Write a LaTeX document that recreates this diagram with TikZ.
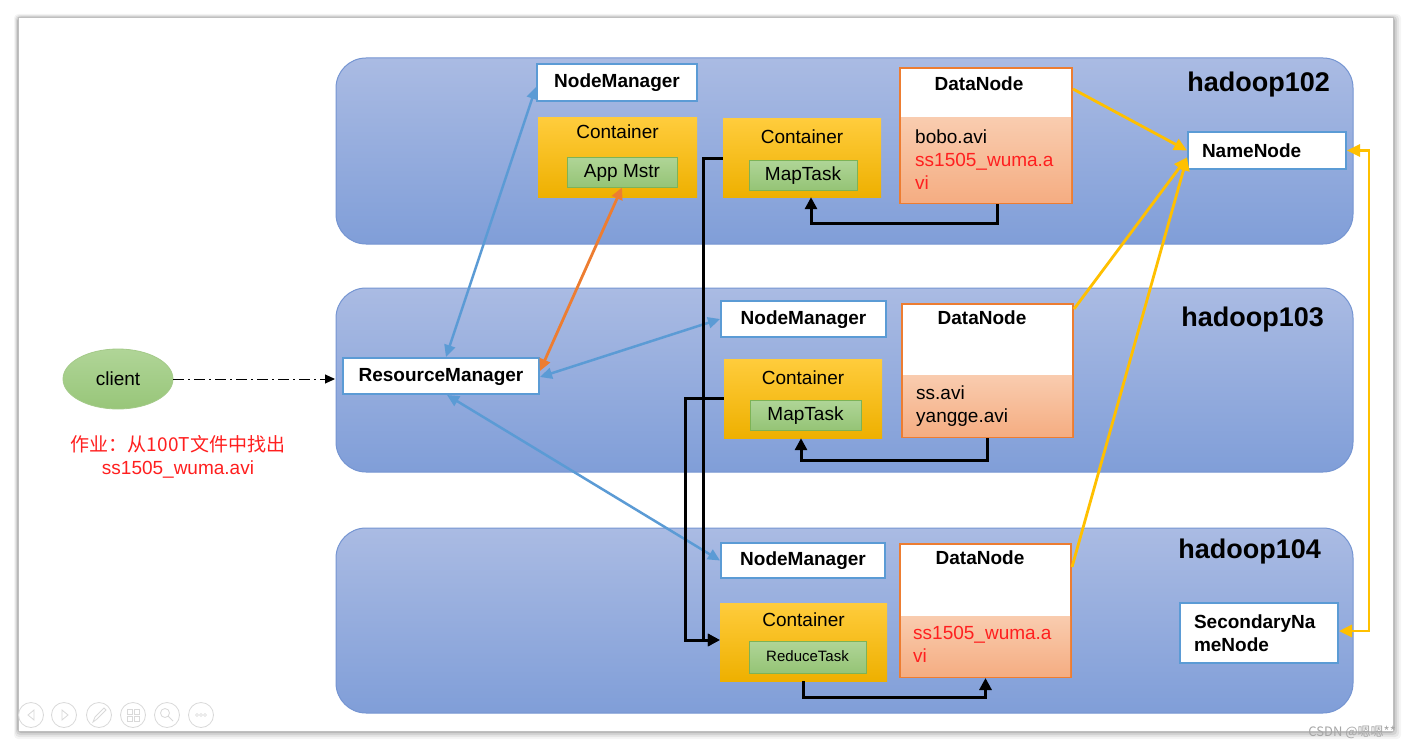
\documentclass[tikz,border=0pt]{standalone}
\usepackage{fontspec}
\setmainfont{Liberation Sans}
\newfontfamily\cjk{Noto Sans CJK SC}
\usetikzlibrary{arrows.meta,shapes.geometric}

\definecolor{bandtop}{HTML}{AABBE3}
\definecolor{bandbot}{HTML}{809ED8}
\definecolor{bandline}{HTML}{7595D2}
\definecolor{nmblue}{HTML}{5B9BD5}
\definecolor{gold}{HTML}{FFC000}
\definecolor{goldtop}{HTML}{FFCC3C}
\definecolor{goldbot}{HTML}{EEB000}
\definecolor{greentop}{HTML}{B0D597}
\definecolor{greenbot}{HTML}{95C476}
\definecolor{greenline}{HTML}{7DB356}
\definecolor{dnorange}{HTML}{ED7D31}
\definecolor{filetop}{HTML}{F9CCAF}
\definecolor{filebot}{HTML}{F5AD82}
\definecolor{hwred}{HTML}{FF1F1F}
\definecolor{uigray}{HTML}{D9D9D9}

\begin{document}
\begin{tikzpicture}[x=1pt,y=-1pt]
\tikzstyle{every node}+=[inner sep=0pt]
\tikzstyle{band}=[draw=bandline,line width=1pt,top color=bandtop,bottom color=bandbot,rounded corners=30pt,minimum width=1017pt]
\tikzstyle{host}=[font=\fontsize{27}{32}\selectfont\bfseries]
\tikzstyle{tb}=[font=\fontsize{19}{23}\selectfont\bfseries]
\tikzstyle{tr}=[font=\fontsize{19}{23}\selectfont]
\tikzstyle{nmbox}=[tb,draw=nmblue,line width=2pt,fill=white,text height=13.5pt,text depth=3.5pt]
\tikzstyle{cbox}=[top color=goldtop,bottom color=goldbot]
\tikzstyle{task}=[tr,draw=greenline,line width=0.8pt,top color=greentop,bottom color=greenbot,text height=13.5pt,text depth=3.5pt]
\tikzstyle{dnframe}=[draw=dnorange,line width=2pt,fill=white]
\tikzstyle{dnfile}=[top color=filetop,bottom color=filebot]
\tikzstyle{blue link}=[draw=nmblue,line width=2.5pt,>={Triangle[length=12pt,width=11pt]},<->]
\tikzstyle{orange link}=[draw=dnorange,line width=2.8pt,>={Triangle[length=12pt,width=11pt]},<->]
\tikzstyle{gold link}=[draw=gold,line width=2.8pt,>={Triangle[length=13pt,width=12pt]},->]
\tikzstyle{black link}=[draw=black,line width=3pt,>={Triangle[length=12pt,width=12pt]},->]

\fill[white] (0,0) rectangle (1412,749);
\foreach \d/\o in {8/0.04,6/0.06,4/0.08,2/0.12}
  \fill[black,opacity=\o,rounded corners=4pt] (18-\d/2,18-\d/2) rectangle (1393+\d,731+\d);
\fill[white] (18,18) rectangle (1393,731);
\draw[color=black!25,line width=1pt] (18,18) rectangle (1393,731);

\node[band,minimum height=186] (b102) at (844.5,151) {};
\node[band,minimum height=184] (b103) at (844.5,380) {};
\node[band,minimum height=185] (b104) at (844.5,620.5) {};
\node[host,anchor=east] (h102) at (1330,85) {hadoop102};
\node[host,anchor=east] (h103) at (1324,320) {hadoop103};
\node[host,anchor=east] (h104) at (1321,552) {hadoop104};

\node[nmbox,minimum width=160,minimum height=37] (nm1) at (617,82.5) {NodeManager};
\node[cbox,minimum width=159,minimum height=79] (c1) at (617.5,157.5) {};
\node[tr] (c1t) at (617.5,132) {Container};
\node[task,minimum width=110,minimum height=30] (am) at (622,172) {App Mstr};
\node[cbox,minimum width=158,minimum height=78] (c2) at (802,158) {};
\node[tr] (c2t) at (802,137) {Container};
\node[task,minimum width=108,minimum height=30] (mt1) at (803,175) {MapTask};
\node[dnframe,minimum width=172,minimum height=135] (dn1) at (986,135.5) {};
\node[dnfile,minimum width=170,minimum height=84] (dn1f) at (986,160) {};
\node[tb] (dn1t) at (979,84) {DataNode};
\node[tr,align=left,anchor=north west] (f1) at (915,129.5) {bobo.avi\\\textcolor{hwred}{ss1505\_wuma.a}\\\textcolor{hwred}{vi}};
\node[tb,draw=nmblue,line width=2pt,fill=white,minimum height=37,text width=130pt,inner xsep=14pt,align=left] (nn) at (1267,150.5) {NameNode};

\node[nmbox,minimum width=196,minimum height=36] (rm) at (441,376) {ResourceManager};
\node[nmbox,minimum width=165,minimum height=36] (nm2) at (803.5,319) {NodeManager};
\node[cbox,minimum width=158,minimum height=79] (c3) at (803,398.5) {};
\node[tr] (c3t) at (803,378) {Container};
\node[task,minimum width=111,minimum height=30] (mt2) at (805.5,415) {MapTask};
\node[dnframe,minimum width=171,minimum height=133] (dn2) at (987.5,370.5) {};
\node[dnfile,minimum width=169,minimum height=61] (dn2f) at (987.5,405.5) {};
\node[tb] (dn2t) at (982,318) {DataNode};
\node[tr,align=left,anchor=north west] (f2) at (916,385.5) {ss.avi\\yangge.avi};

\node[nmbox,minimum width=164,minimum height=35] (nm3) at (803,560.5) {NodeManager};
\node[cbox,minimum width=167,minimum height=78] (c4) at (803.5,642) {};
\node[tr] (c4t) at (803.5,620) {Container};
\node[task,font=\fontsize{15}{18}\selectfont,text height=11pt,text depth=3pt,minimum width=117,minimum height=32] (rt) at (807.5,657) {ReduceTask};
\node[dnframe,minimum width=171,minimum height=133] (dn3) at (985.5,610.5) {};
\node[dnfile,minimum width=169,minimum height=60] (dn3f) at (985.5,646) {};
\node[tb] (dn3t) at (980,558) {DataNode};
\node[tr,align=left,anchor=north west,text=hwred] (f3) at (913,626.5) {ss1505\_wuma.a\\vi};
\node[tb,draw=nmblue,line width=2pt,fill=white,minimum height=60,text width=130pt,inner xsep=14pt,align=left] (snn) at (1259,633) {SecondaryNa\\meNode};

\node[tr,ellipse,draw=greenline!70,line width=0.8pt,top color=greentop,bottom color=greenbot!90!greentop,minimum width=110,minimum height=60] (client) at (118,379) {client};
\node[font=\cjk\fontsize{19}{23}\selectfont,text=hwred,align=center] (hw) at (178,457) {作业：从100T文件中找出\\{\fontspec{Liberation Sans}ss1505\_wuma.avi}};

\draw[line width=1pt,dash pattern=on 11pt off 4pt on 2pt off 4pt,-{Triangle[length=10pt,width=9pt]}] (client) -- ([xshift=-7pt,yshift=-3pt]rm.west);
\draw[blue link] ([xshift=5pt]rm.north) -- ([yshift=-4.5pt]nm1.west);
\draw[orange link] ([yshift=5pt]rm.east) -- (am.south);
\draw[blue link] ([yshift=-1pt]rm.east) -- (nm2.west);
\draw[blue link] ([xshift=6pt]rm.south) -- (nm3.west);

\draw[black link] ([xshift=11pt]dn1.south) -- ++(0,19) -| ([xshift=9pt]c2.south);
\draw[black link] (dn2.south) -- ++(0,22) -| ([xshift=-2pt]c3.south);
\draw[black link] (c4.south) -- ++(0,16) -| (dn3.south);
\draw[black link] (c2.west) -- ++(-19,0) |- ([yshift=2pt]c4.west);
\draw[black link] (c3.west) -- ++(-38,0) |- ([yshift=2pt]c4.west);

\draw[gold link] ([yshift=-22pt]dn1.north east) -- (nn.west);
\draw[gold link] ([yshift=-6pt]dn2.north east) -- ([yshift=-7pt]nn.west);
\draw[gold link] ([yshift=-24pt]dn3.north east) -- ([yshift=-7pt]nn.west);
\draw[gold link,<->] (nn.east) -- ++(22,0) |- ([yshift=2pt]snn.east);

\foreach \cx in {31,64,99,133,167,201}
  \draw[uigray,line width=0.8pt] (\cx,715) circle (12.5);
\draw[uigray,line width=0.8pt] (34,710) -- (28,715) -- (34,720) -- cycle;
\draw[uigray,line width=0.8pt] (62,710) -- (68,715) -- (62,720) -- cycle;
\draw[uigray,line width=0.8pt] (93,722) -- (95,717) -- (104,708) -- (106,710) -- (97,719) -- cycle;
\draw[uigray,line width=0.8pt] (127,709) rectangle (132,714) (134,709) rectangle (139,714) (127,716) rectangle (132,721) (134,716) rectangle (139,721);
\draw[uigray,line width=0.8pt] (165,713) circle (4.5) (168,716) -- (173,721);
\foreach \dx in {-4,0,4}
  \draw[uigray,line width=0.6pt] (201+\dx,715) circle (1.5);
\node[font=\cjk\fontsize{13}{15}\selectfont,text=black!35,anchor=east] (wm) at (1396,732) {CSDN @嗯嗯**};
\end{tikzpicture}
\end{document}
